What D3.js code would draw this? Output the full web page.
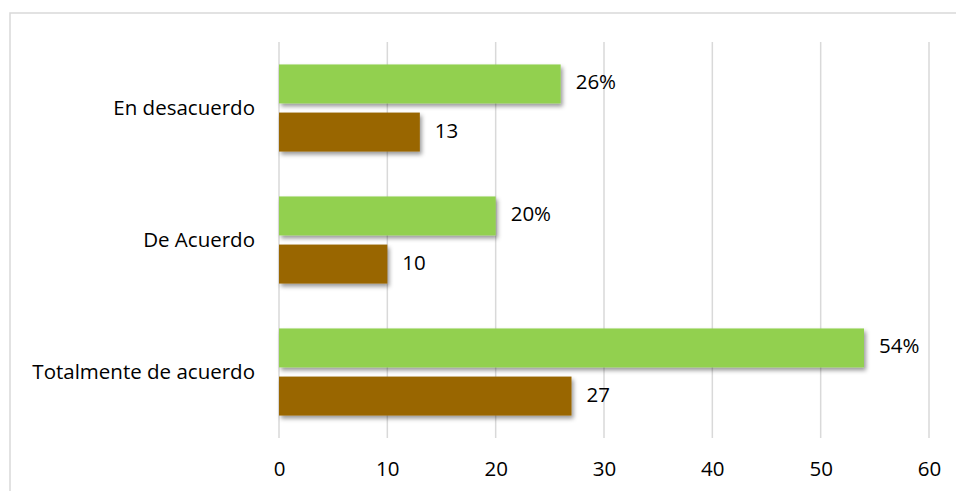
<!DOCTYPE html>
<html>
<head>
<meta charset="utf-8">
<script src="https://cdn.jsdelivr.net/npm/d3@7"></script>
<style>
  html, body { margin: 0; padding: 0; background: #fff; }
  svg { display: block; }
  text { font-family: "Open Sans", Lato, sans-serif; fill: #000; }
</style>
</head>
<body>
<svg id="chart" width="956" height="491"></svg>
<script>
// Response categories, listed top to bottom
const categories = ["En desacuerdo", "De Acuerdo", "Totalmente de acuerdo"];
// Share of respondents (%) per category
const percentValues = [26, 20, 54];
// Number of respondents per category
const countValues = [13, 10, 27];
// Axis ticks
const tickValues = [0, 10, 20, 30, 40, 50, 60];

const series = [
  { key: "pct", values: percentValues, color: "#92D050", fmt: d => d + "%" },
  { key: "cnt", values: countValues, color: "#996600", fmt: d => String(d) }
];

const FONT = "'Open Sans', Lato, sans-serif";
const FS = 20.5;

const svg = d3.select("#chart");
const W = 956, H = 491;
const plot = { left: 279, right: 929, top: 42, bottom: 438 };

// Outer frame (extends past the right and bottom edges)
svg.append("rect")
  .attr("x", 10).attr("y", 13)
  .attr("width", W + 20).attr("height", H + 20)
  .attr("fill", "none").attr("stroke", "#d9d9d9").attr("stroke-width", 1.5);

const defs = svg.append("defs");
const f = defs.append("filter").attr("id", "shadow")
  .attr("x", "-5%").attr("y", "-30%").attr("width", "115%").attr("height", "180%");
f.append("feDropShadow")
  .attr("dx", 2).attr("dy", 3).attr("stdDeviation", 2)
  .attr("flood-color", "#000").attr("flood-opacity", 0.4);

const x = d3.scaleLinear().domain([0, 60]).range([plot.left, plot.right]);
const y = d3.scaleBand().domain(categories).range([plot.top, plot.bottom])
  .paddingInner(0.34).paddingOuter(0.17);
const ySub = d3.scaleBand().domain(series.map(s => s.key))
  .range([0, y.bandwidth()]).paddingInner(0.19);

// Vertical gridlines
svg.append("g")
  .selectAll("line")
  .data(tickValues)
  .join("line")
  .attr("x1", d => x(d)).attr("x2", d => x(d))
  .attr("y1", plot.top).attr("y2", plot.bottom)
  .attr("stroke", "#d9d9d9").attr("stroke-width", 1.5);

// Bottom axis labels
const xAxis = d3.axisBottom(x).tickValues(tickValues).tickSize(0).tickPadding(0);
const gx = svg.append("g").attr("transform", `translate(0,${plot.bottom + 33})`).call(xAxis);
gx.select(".domain").remove();
gx.selectAll("text").attr("font-size", FS).attr("dy", "0").attr("dominant-baseline", "middle")
  .style("font-family", FONT).attr("fill", "#000");

// Category labels
const yAxis = d3.axisLeft(y).tickSize(0).tickPadding(0);
const gy = svg.append("g").attr("transform", `translate(${plot.left - 24},0)`).call(yAxis);
gy.select(".domain").remove();
gy.selectAll("text").attr("font-size", FS)
  .style("font-family", FONT).attr("fill", "#000");

// Bars and value labels
series.forEach(s => {
  const g = svg.append("g");
  g.selectAll("rect")
    .data(categories)
    .join("rect")
    .attr("x", x(0))
    .attr("y", (c) => y(c) + ySub(s.key))
    .attr("width", (c, i) => x(s.values[i]) - x(0))
    .attr("height", ySub.bandwidth())
    .attr("fill", s.color)
    .attr("filter", "url(#shadow)");
  g.selectAll("text")
    .data(categories)
    .join("text")
    .attr("x", (c, i) => x(s.values[i]) + 15)
    .attr("y", (c) => y(c) + ySub(s.key) + ySub.bandwidth() / 2)
    .attr("dominant-baseline", "middle")
    .attr("font-size", FS)
    .text((c, i) => s.fmt(s.values[i]));
});
</script>
</body>
</html>
